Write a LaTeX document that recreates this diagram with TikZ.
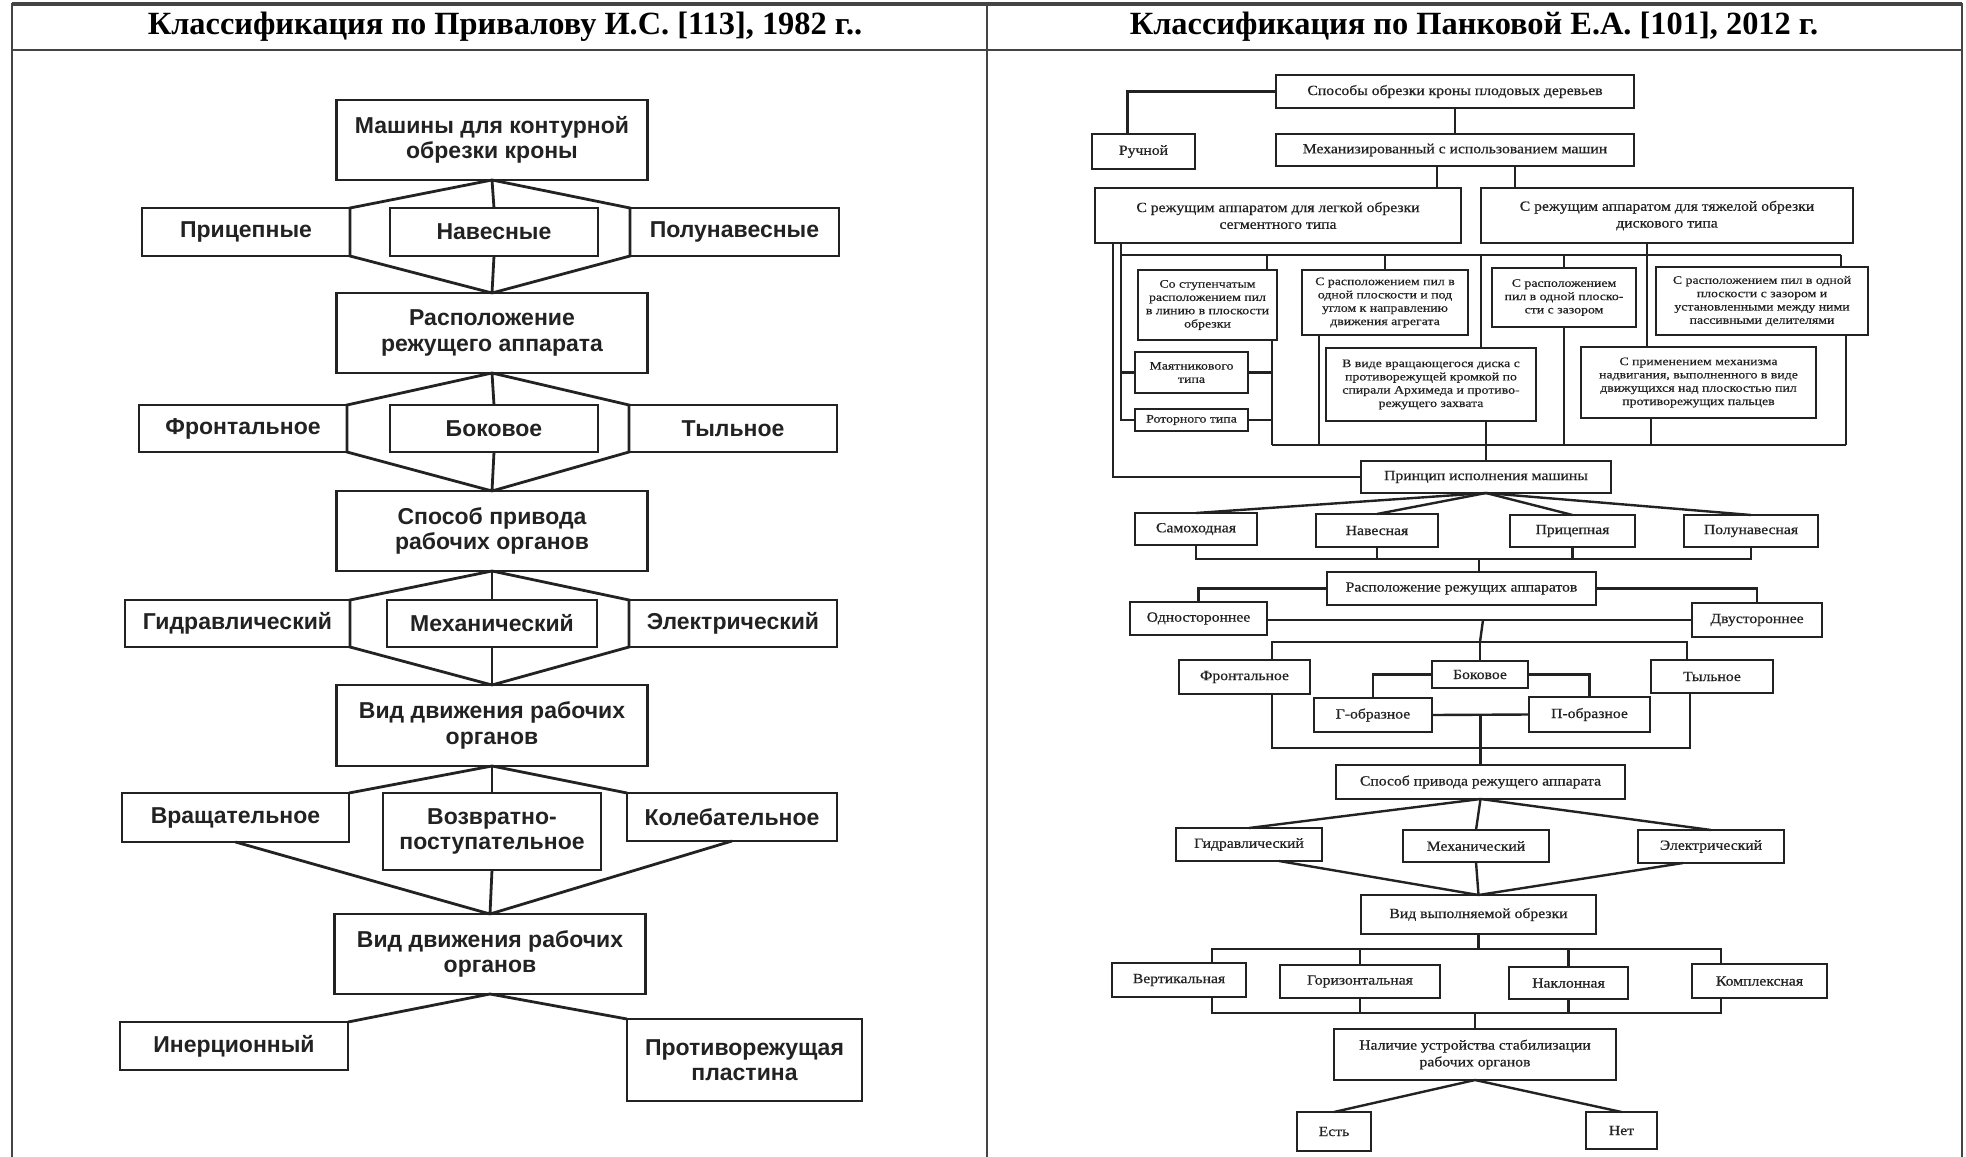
\documentclass[tikz,border=0pt]{standalone}
\usepackage{fontspec}
\setmainfont{Liberation Serif}
\newfontfamily\headfont{Liberation Serif}
\newfontfamily\boldsans{Liberation Sans}
\newfontfamily\scanfont{Liberation Serif}[FakeStretch=1.12, FakeBold=0.6]
\newfontfamily\scansmall{Liberation Serif}[FakeStretch=1.2, FakeBold=0.5]
\usepackage{tikz}
\usetikzlibrary{positioning}
\usetikzlibrary{calc}

\definecolor{ink}{HTML}{222222}
\definecolor{rule}{HTML}{444444}

\tikzset{
  pbox/.style={draw=ink, line width=1.4pt, fill=white, inner sep=1pt, outer sep=0pt,
    align=center, text=ink, font=\boldsans\bfseries\fontsize{11.5}{12.8}\selectfont},
  pline/.style={draw=ink, line width=1.4pt},
  sbox/.style={draw=ink, line width=1.25pt, fill=white, inner sep=1pt, outer sep=0pt,
    align=center, text=ink, font=\scanfont\fontsize{7}{8.4}\selectfont},
  smalltxt/.style={font=\scansmall\fontsize{5.75}{6.65}\selectfont},
  sline/.style={draw=ink, line width=1.2pt},
  headtxt/.style={font=\headfont\bfseries\fontsize{16.2}{19}\selectfont}
}

\begin{document}
\begin{tikzpicture}[x=0.5pt, y=-0.5pt, line cap=butt, line join=miter]
            \useasboundingbox (0,0) rectangle (1966,1157);

            % table frame
            \draw[rule, line width=0.8pt] (12,1157) -- (12,4) -- (1962,4) -- (1962,1157);
            \draw[rule, line width=2pt] (12,4) -- (1962,4);
            \draw[rule, line width=0.8pt] (12,50) -- (1962,50);
            \draw[rule, line width=0.8pt] (987,4) -- (987,1157);

            % headers
            \node[headtxt] (hleft)  at (505,27)  {Классификация по Привалову И.С. [113], 1982 г..};
            \node[headtxt] (hright) at (1474,27) {Классификация по Панковой Е.А. [101], 2012 г.};

            % ---- left scheme ----
            \node[pbox, minimum width=155.5pt, minimum height=40pt] (mashiny) at (492,140) {Машины для контурной\\обрезки кроны};
            \node[pbox, minimum width=104pt, minimum height=24pt] (pricep)  at (246,232) {Прицепные};
            \node[pbox, minimum width=104pt, minimum height=24pt] (naves)   at (494,232) {Навесные};
            \node[pbox, minimum width=104.5pt, minimum height=24pt] (polunav) at (734.5,232) {Полунавесные};
            \node[pbox, minimum width=155.5pt, minimum height=40pt] (raspol) at (492,333) {Расположение\\режущего аппарата};

            \node[pbox, minimum width=104pt, minimum height=23.5pt] (front) at (243,428.5) {Фронтальное};
            \node[pbox, minimum width=104pt, minimum height=23.5pt] (bokov) at (494,428.5) {Боковое};
            \node[pbox, minimum width=104pt, minimum height=23.5pt] (tyln)  at (733,428.5) {Тыльное};
            \node[pbox, minimum width=155.5pt, minimum height=40pt] (privod) at (492,531) {Способ привода\\рабочих органов};

            \node[pbox, minimum width=112.5pt, minimum height=23.5pt] (gidr)   at (237.5,623.5) {Гидравлический};
            \node[pbox, minimum width=105pt, minimum height=23.5pt]   (mehan)  at (492,623.5) {Механический};
            \node[pbox, minimum width=104pt, minimum height=23.5pt]   (elektr) at (733,623.5) {Электрический};
            \node[pbox, minimum width=155.5pt, minimum height=40.5pt] (vidA) at (492,725.5) {Вид движения рабочих\\органов};

            \node[pbox, minimum width=113.5pt, minimum height=24.5pt] (vrasch) at (235.5,817.5) {Вращательное};
            \node[pbox, minimum width=109pt, minimum height=38.5pt]   (vozvr)  at (492,831.5) {Возвратно-\\поступательное};
            \node[pbox, minimum width=105pt, minimum height=24pt]     (koleb)  at (732,817) {Колебательное};
            \node[pbox, minimum width=155.5pt, minimum height=40pt] (vidB) at (490,954) {Вид движения рабочих\\органов};

            \node[pbox, minimum width=114pt, minimum height=24pt]   (inerc)  at (234,1046) {Инерционный};
            \node[pbox, minimum width=117.5pt, minimum height=41pt] (protiv) at (744.5,1060) {Противорежущая\\пластина};

            % hexagon links
            \draw[pline] (mashiny.south) -- (pricep.north east) -- (pricep.south east) -- (raspol.north);
            \draw[pline] (mashiny.south) -- (polunav.north west) -- (polunav.south west) -- (raspol.north);
            \draw[pline] (mashiny.south) -- (naves.north);
            \draw[pline] (naves.south) -- (raspol.north);

            \draw[pline] (raspol.south) -- (front.north east) -- (front.south east) -- (privod.north);
            \draw[pline] (raspol.south) -- (tyln.north west) -- (tyln.south west) -- (privod.north);
            \draw[pline] (raspol.south) -- (bokov.north);
            \draw[pline] (bokov.south) -- (privod.north);

            \draw[pline] (privod.south) -- (gidr.north east) -- (gidr.south east) -- (vidA.north);
            \draw[pline] (privod.south) -- (elektr.north west) -- (elektr.south west) -- (vidA.north);
            \draw[pline] (privod.south) -- (mehan.north);
            \draw[pline] (mehan.south) -- (vidA.north);

            \draw[pline] (vidA.south) -- (vrasch.north east);
            \draw[pline] (vidA.south) -- (koleb.north west);
            \draw[pline] (vidA.south) -- (vozvr.north);
            \draw[pline] (vrasch.south) -- (vidB.north);
            \draw[pline] (koleb.south) -- (vidB.north);
            \draw[pline] (vozvr.south) -- (vidB.north);

            \draw[pline] (vidB.south) -- (inerc.north east);
            \draw[pline] (vidB.south) -- (protiv.north west);

            % ---- right scheme ----
            \node[sbox, minimum width=179pt, minimum height=16.5pt]   (sposoby) at (1455,91.5) {Способы обрезки кроны плодовых деревьев};
            \node[sbox, minimum width=51.5pt, minimum height=17.5pt]  (ruchn)   at (1143.5,151.5) {Ручной};
            \node[sbox, minimum width=179pt, minimum height=16pt]     (mehaniz) at (1455,150) {Механизированный с использованием машин};
            \node[sbox, minimum width=183pt, minimum height=27.5pt]   (segm) at (1278,215.5) {С режущим аппаратом для легкой обрезки\\сегментного типа};
            \node[sbox, minimum width=186pt, minimum height=27.5pt]   (disk) at (1667,215.5) {С режущим аппаратом для тяжелой обрезки\\дискового типа};

            % cutting units
            \node[sbox, smalltxt, minimum width=69.5pt, minimum height=35pt]  (stup)   at (1207.5,305) {Со ступенчатым\\расположением пил\\в линию в плоскости\\обрезки};
            \node[sbox, smalltxt, minimum width=56.5pt, minimum height=20.5pt] (mayat) at (1191.5,372.5) {Маятникового\\типа};
            \node[sbox, smalltxt, minimum width=56.5pt, minimum height=11pt]   (rotor) at (1191.5,420) {Роторного типа};
            \node[sbox, smalltxt, minimum width=83pt, minimum height=32.5pt]   (ugol)  at (1385,302.5) {С расположением пил в\\одной плоскости и под\\углом к направлению\\движения агрегата};
            \node[sbox, smalltxt, minimum width=105pt, minimum height=36.5pt]  (vdisk) at (1431,384.5) {В виде вращающегося диска с\\противорежущей кромкой по\\спирали Архимеда и противо-\\режущего захвата};
            \node[sbox, smalltxt, minimum width=72pt, minimum height=29.5pt]   (zazor) at (1564,297.5) {С расположением\\пил в одной плоско-\\сти с зазором};
            \node[sbox, smalltxt, minimum width=106pt, minimum height=34pt]    (delit) at (1762,301) {С расположением пил в одной\\плоскости с зазором и\\установленными между ними\\пассивными делителями};
            \node[sbox, smalltxt, minimum width=117.5pt, minimum height=35.5pt] (nadvig) at (1698.5,382.5) {С применением механизма\\надвигания, выполненного в виде\\движущихся над плоскостью пил\\противорежущих пальцев};

            \node[sbox, minimum width=125pt, minimum height=16pt]  (princip)  at (1486,477) {Принцип исполнения машины};
            \node[sbox, minimum width=61pt, minimum height=16pt]   (samoh)    at (1196,529) {Самоходная};
            \node[sbox, minimum width=61pt, minimum height=16.5pt] (navesn)   at (1377,530.5) {Навесная};
            \node[sbox, minimum width=62.5pt, minimum height=16pt] (pricepn)  at (1572.5,531) {Прицепная};
            \node[sbox, minimum width=67pt, minimum height=16pt]   (polunavn) at (1751,531) {Полунавесная};

            \node[sbox, minimum width=134.5pt, minimum height=16.5pt] (rasprez) at (1461.5,588.5) {Расположение режущих аппаратов};
            \node[sbox, minimum width=68.5pt, minimum height=16.5pt] (odnost) at (1198.5,618.5) {Одностороннее};
            \node[sbox, minimum width=65pt, minimum height=17pt]     (dvust)  at (1757,620) {Двустороннее};
            \node[sbox, minimum width=65.5pt, minimum height=17pt]   (frontal) at (1244.5,677) {Фронтальное};
            \node[sbox, minimum width=48pt, minimum height=13.5pt]   (bokovoe) at (1480,674.5) {Боковое};
            \node[sbox, minimum width=61pt, minimum height=16.5pt]   (tylnoe)  at (1712,676.5) {Тыльное};
            \node[sbox, minimum width=59pt, minimum height=17pt]     (gobr) at (1373,715) {Г-образное};
            \node[sbox, minimum width=60.5pt, minimum height=17.5pt] (pobr) at (1589.5,714.5) {П-образное};

            \node[sbox, minimum width=144.5pt, minimum height=17pt] (privrez) at (1480.5,782) {Способ привода режущего аппарата};
            \node[sbox, minimum width=73pt, minimum height=16.5pt]  (gidrR) at (1249,844.5) {Гидравлический};
            \node[sbox, minimum width=73pt, minimum height=16pt]    (mehR)  at (1476,846) {Механический};
            \node[sbox, minimum width=73pt, minimum height=16.5pt]  (elekR) at (1711,846.5) {Электрический};

            \node[sbox, minimum width=117.5pt, minimum height=19.5pt] (vidobr) at (1478.5,914.5) {Вид выполняемой обрезки};
            \node[sbox, minimum width=67pt, minimum height=17pt]   (vertik)  at (1179,980) {Вертикальная};
            \node[sbox, minimum width=80pt, minimum height=16.5pt] (gorizon) at (1360,981.5) {Горизонтальная};
            \node[sbox, minimum width=59.5pt, minimum height=16pt] (naklon)  at (1568.5,983) {Наклонная};
            \node[sbox, minimum width=67.5pt, minimum height=17pt] (kompl)   at (1759.5,981) {Комплексная};
            \node[sbox, minimum width=141pt, minimum height=25.5pt] (nalich) at (1475,1054.5) {Наличие устройства стабилизации\\рабочих органов};
            \node[sbox, minimum width=37pt, minimum height=19.5pt]   (est) at (1334,1131.5) {Есть};
            \node[sbox, minimum width=35.5pt, minimum height=18.5pt] (net) at (1621.5,1130.5) {Нет};

            % bus points
            \coordinate (tbusL) at (1121,255);
            \coordinate (tbusR) at (1841,255);
            \coordinate (bbusL) at (1272,445);
            \coordinate (bbusR) at (1846,445);
            \coordinate (bus3) at (1479,559);
            \coordinate (bus4) at (1483,620);
            \coordinate (bus5) at (1480,642);
            \coordinate (bus7) at (1480,748);
            \coordinate (bus8) at (1478.5,949);
            \coordinate (bus9) at (1478.5,1013);

            % top links
            \draw[sline] (sposoby.west) -| ([xshift=-8pt]ruchn.north);
            \draw[sline] (sposoby.south) -- (mehaniz.north);
            \draw[sline] ([xshift=-9pt]mehaniz.south) -- ([xshift=-9pt]mehaniz.south |- segm.north);
            \draw[sline] ([xshift=30pt]mehaniz.south) -- ([xshift=30pt]mehaniz.south |- disk.north);

            % cutting unit buses
            \draw[sline] ([xshift=9pt]segm.south west) |- (princip.west);
            \draw[sline] (tbusL) -- (tbusR);
            \draw[sline] (bbusL) -- (bbusR);
            \draw[sline] (tbusL |- segm.south) -- (tbusL |- rotor.west) -- (rotor.west);
            \draw[sline] (tbusL |- mayat.west) -- (mayat.west);
            \draw[sline] ([xshift=-5pt]stup.north east |- tbusL) -- ([xshift=-5pt]stup.north east);
            \draw[sline] ([xshift=-2.5pt]stup.south east) -- (bbusL);
            \draw[sline] (mayat.east) -- (mayat.east -| bbusL);
            \draw[sline] (rotor.east) -- (rotor.east -| bbusL);
            \draw[sline] (tbusL -| ugol.north) -- (ugol.north);
            \draw[sline] ([xshift=8.5pt]ugol.south west) -- ([xshift=8.5pt]ugol.south west |- bbusL);
            \draw[sline] ([xshift=25pt]vdisk.north |- tbusL) -- ([xshift=25pt]vdisk.north);
            \draw[sline] (princip.north |- vdisk.south) -- (princip.north);
            \draw[sline] (tbusL -| zazor.north) -- (zazor.north);
            \draw[sline] (zazor.south) -- (zazor.south |- bbusL);
            \draw[sline] (tbusR) -- (tbusR |- delit.north);
            \draw[sline] (bbusR |- delit.south) -- (bbusR);
            \draw[sline] ([xshift=-10pt]disk.south) -- ([xshift=-10pt]disk.south |- nadvig.north);
            \draw[sline] ([xshift=35pt]nadvig.south west) -- ([xshift=35pt]nadvig.south west |- bbusL);

            % machine type
            \foreach \n in {samoh, navesn, pricepn, polunavn}
              \draw[sline] (princip.south) -- (\n.north);
            \draw[sline] (samoh.south) |- (bus3) -| (polunavn.south);
            \draw[sline] (navesn.south) -- (navesn.south |- bus3);
            \draw[sline] (pricepn.south) -- (pricepn.south |- bus3);
            \draw[sline] (bus3) -- (bus3 |- rasprez.north);

            % cutting unit position
            \draw[sline] (rasprez.west) -| (odnost.north);
            \draw[sline] (rasprez.east) -| (dvust.north);
            \draw[sline] (odnost.east |- bus4) -- (dvust.west |- bus4);
            \draw[sline] (bus4) -- (bus5);
            \draw[sline] ([xshift=13.75pt]frontal.north) |- (bus5) -| ([xshift=-12.5pt]tylnoe.north);
            \draw[sline] (bus5) -- (bokovoe.north);
            \draw[sline] (bokovoe.west) -| (gobr.north);
            \draw[sline] (bokovoe.east) -| (pobr.north);
            \draw[sline] (gobr.east) -- (pobr.west);
            \draw[sline] ([xshift=13.75pt]frontal.south) |- (bus7) -| ([xshift=-11pt]tylnoe.south);
            \draw[sline] (privrez.north |- gobr.east) -- (privrez.north);

            % drive
            \foreach \n in {gidrR, mehR, elekR}
              \draw[sline] (privrez.south) -- (\n.north);
            \draw[sline] ([xshift=15pt]gidrR.south) -- (vidobr.north);
            \draw[sline] (mehR.south) -- (vidobr.north);
            \draw[sline] ([xshift=-14pt]elekR.south) -- (vidobr.north);

            % cut type
            \draw[sline] (vidobr.south) -- (bus8);
            \draw[sline] ([xshift=16.5pt]vertik.north) |- (bus8) -| ([xshift=-19.25pt]kompl.north);
            \draw[sline] (gorizon.north) -- (gorizon.north |- bus8);
            \draw[sline] (naklon.north) -- (naklon.north |- bus8);
            \draw[sline] ([xshift=16.5pt]vertik.south) |- (bus9) -| ([xshift=-19.25pt]kompl.south);
            \draw[sline] (gorizon.south) -- (gorizon.south |- bus9);
            \draw[sline] (naklon.south) -- (naklon.south |- bus9);
            \draw[sline] (nalich.north |- bus9) -- (nalich.north);

            % stabilisation
            \draw[sline] (nalich.south) -- (est.north);
            \draw[sline] (nalich.south) -- (net.north);
        \end{tikzpicture}
\end{document}
